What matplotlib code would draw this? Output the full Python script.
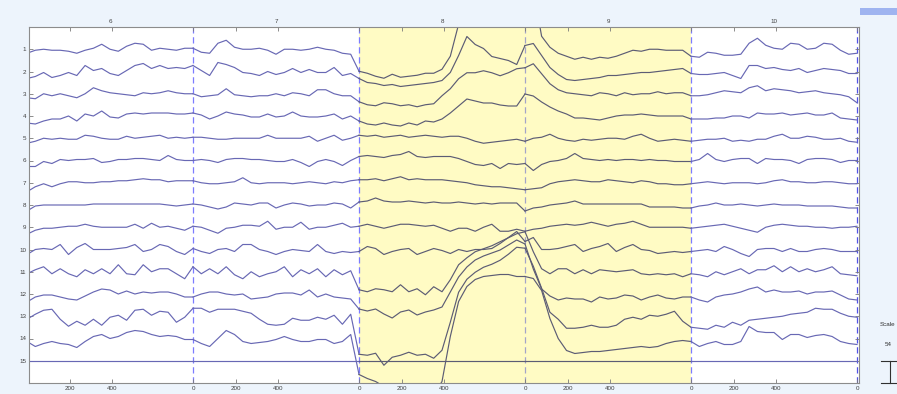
import numpy as np
import matplotlib.pyplot as plt
from matplotlib.transforms import blended_transform_factory

plt.rcParams['font.family'] = ['Liberation Sans', 'DejaVu Sans']

## eegplot style scroll view: epochs 6..10, 200 samples per epoch at 256 Hz

srate = 256
epoch_pts = 200
epoch_numbers = [6, 7, 8, 9, 10]
marked_epochs = [8, 9]
tick_ms = [0, 200, 400]
step = 10            # one value every 10 samples
spacing = 22.25      # channel spacing (shown as scale 54)
scale_text = '54'

# amplitudes per channel, one row per epoch (+ last sample)
ch1 = [-4, -1, 0, -1, -1, -2, -4, -1, 1, 5, 0, -2, 3, 6, 5, -1, 1, 0, -1, 1,
       1, -3, -4, 6, 9, 2, 0, 0, 1, -1, -5, 0, 0, -1, 0, 2, 0, -1, -4, -5,
       -22, -24, -27, -29, -25, -28, -27, -26, -24, -24, -20, -7, 25, 45, 55, 60, 60, 60, 60, 60,
       60, 60, 13, 2, -4, -7, -10, -8, -10, -8, -9, -7, -4, -1, -2, 0, 0, -1, -1, -1,
       -7, -8, -3, -4, -6, -6, -5, 6, 11, 4, 1, 0, 6, 5, 0, 1, 6, 5, -1, -5,
       -4]
ch2 = [-7, -5, -1, -6, -4, -1, -4, 6, 1, 3, -2, -4, 1, 6, 8, 3, 6, 3, 4, 3,
       6, 1, -4, 9, 7, 4, -1, -2, -4, 0, -3, -1, 3, -1, 2, -1, -1, 4, -4, -2,
       -7, -11, -12, -14, -13, -15, -14, -13, -12, -11, -9, -1, 16, 35, 27, 23, 15, 13, 11, 7,
       26, 28, 16, 4, -3, -8, -9, -8, -7, -6, -4, -4, -3, -2, -1, -1, 0, 1, 2, 3,
       -2, -3, -3, -2, -1, -4, -7, 6, 6, 3, 4, 2, 1, 3, -1, 1, 3, 2, 1, -2,
       -2]
ch3 = [-4, -5, 0, -2, 0, -2, -4, 0, 6, 3, 1, 0, -1, -2, 1, 0, 1, 3, 1, 0,
       0, -3, -2, -1, 5, -1, -2, -3, -2, -2, 0, -2, 1, 0, -2, 4, 4, 0, -2, -2,
       -8, -11, -12, -9, -10, -12, -11, -13, -11, -10, -2, 5, 15, 21, 21, 23, 21, 18, 21, 25,
       26, 30, 20, 10, 4, 1, 0, -1, -2, 1, 0, -2, 1, -1, 0, 0, 2, 0, 1, 1,
       -2, -2, -1, 1, 3, 2, 1, 6, 8, 3, 5, 4, 3, 1, 2, 3, 1, 0, -1, -3,
       -9]
ch4 = [-7, -8, -5, -3, -3, 0, -5, 2, 0, 5, -1, -2, 2, 3, 2, 3, 3, 3, 2, 2,
       3, 1, -3, 0, 4, 2, 1, -1, -1, 2, -1, 0, 4, 0, -1, -1, 0, 2, -3, 0,
       -5, -8, -9, -7, -9, -10, -7, -9, -5, -6, -3, 3, 10, 17, 15, 13, 13, 11, 10, 10,
       22, 20, 14, 9, 5, 2, -2, -2, -3, -4, -2, 0, 1, 1, 2, 1, 0, 0, 0, 0,
       -3, -3, -3, -2, -2, 0, 0, -2, 3, 2, 2, 3, 1, 2, 3, 1, 1, 3, -2, -3,
       -4]
ch5 = [-5, -3, 0, -1, 0, -1, -1, 3, 2, 0, -1, -1, 2, 0, 1, 2, 3, 0, 1, 0,
       1, 1, 0, -1, -1, 0, 0, 0, 0, 3, 0, 0, 0, 0, 2, -3, 0, 3, -2, 0,
       3, 2, 3, 1, 2, 3, 1, 2, 3, 2, 1, 2, 2, 0, -3, -5, -4, -3, -2, -1,
       -3, 0, 1, 4, 0, -2, -3, -1, -2, -1, 0, 0, -1, 2, 4, 0, -3, -2, -1, -2,
       -3, -2, -1, -1, 0, -3, -2, -3, -1, -1, 2, 4, 0, 0, 2, 1, -1, -1, 0, -3,
       -4]
ch6 = [-6, -6, -1, -3, 1, 0, 1, 1, 2, -2, -1, 1, 1, 2, 2, 1, 0, 5, 1, 0,
       0, 1, 0, -2, 1, 2, 2, 1, 1, 0, -1, -1, 1, -2, -6, -1, 1, -1, -5, 0,
       4, 5, 4, 3, 5, 6, 9, 4, 3, 4, 4, 4, 2, -1, -4, -5, -3, -8, -3, -4,
       -3, -10, -4, -1, 0, 2, 7, 2, 1, 0, 1, 0, 1, 1, 0, 1, 0, 0, -1, -1,
       -1, 1, 7, 1, -1, 1, 2, 2, -3, 2, 1, 1, 0, -3, 1, 2, 2, 1, -2, 0,
       0]
ch7 = [-9, -4, -1, -4, -1, 1, 1, 0, 0, 1, 1, 2, 2, 3, 4, 3, 3, 1, 2, 2,
       2, 0, -1, -1, 0, 1, 5, 0, -1, 0, 0, 0, -1, 0, 1, 0, -1, 1, 0, 2,
       3, 3, 4, 2, 4, 6, 3, 4, 3, 3, 3, 2, 1, 0, -2, -3, -4, -4, -5, -6,
       -7, -6, -5, -1, 1, 2, 3, 2, 1, 1, 3, 2, 1, 0, 2, 1, -1, -1, -2, -2,
       -1, 0, 1, 0, -1, 0, 0, 0, -1, 0, 2, 3, 1, 1, 0, 0, 1, 1, 0, -1,
       -1]
ch8 = [-6, -1, 0, 0, 0, 0, 0, 0, 1, 1, 1, 1, 1, 1, 1, 1, 1, 0, -1, 0,
       1, 0, -2, -4, -2, 2, 1, 0, 2, 2, -3, 0, 2, 1, -1, 0, 0, 2, 1, -3,
       3, 4, 7, 4, 3, 3, 4, 3, 2, 3, 2, 2, 3, 2, 1, 2, 1, 2, 2, 2,
       -6, -3, -2, 0, 1, 2, 4, 1, 1, 1, 1, 1, 1, 1, 1, -2, -2, -2, -2, -3,
       -3, -1, 0, 2, 0, 0, 1, 0, -1, 0, 1, 0, 0, 0, -1, -1, -1, -1, -2, -3,
       -3]
ch9 = [-7, -3, -1, -1, 0, 1, 1, 3, 1, 0, 0, 0, 0, 3, -1, 4, 0, 1, -1, -3,
       1, 0, -3, -6, -1, 0, 2, 2, 1, 6, -2, 0, 0, 5, -2, 0, 0, 2, 4, 0,
       1, 3, 1, -1, 1, 3, 3, 2, 1, 2, -1, -4, -1, -1, -4, 0, 3, -4, -4, -2,
       -4, -2, -1, 1, 2, 3, 2, 3, 5, 3, 1, 3, 4, 6, 3, 0, 0, 0, 0, 0,
       -1, 0, 1, 2, 3, 1, -1, -3, -5, 0, 2, 3, 2, 1, 1, 0, 0, -1, 0, 0,
       1]
ch10 = [-5, 0, 1, 0, 5, -5, 2, 6, 0, 0, 0, 1, 2, 5, -2, 0, 5, 3, -2, -5,
        1, -2, -4, 0, 1, -2, 5, 5, 0, -2, -5, -2, 0, -1, -2, 5, -2, -4, -2, -3,
        -2, 3, 1, -5, -2, 0, 1, -5, -2, 1, -1, -4, 0, -2, 0, 0, 1, 6, 12, 18,
        8, 12, 0, 0, 1, 3, 5, -2, 1, 3, 6, -2, 2, 5, 0, -1, -4, -3, -2, -3,
        -2, -1, 0, -2, 3, 0, -4, -7, 0, 1, 1, -2, 1, -2, -2, 0, 1, 0, -2, -2,
        -2]
ch11 = [-2, 2, 5, -2, 3, -2, -5, 2, -2, 3, -2, 7, -2, -3, 7, 0, 3, 3, -2, -7,
        5, -2, 3, -2, 5, -3, -7, 0, -5, -2, 0, 5, -5, 2, -2, 3, -5, 2, -3, 1,
        -18, -20, -17, -18, -20, -13, -20, -17, -23, -15, -20, -8, 7, 14, 20, 23, 26, 30, 34, 38,
        40, 20, 3, -2, 3, 3, -2, 2, -2, 2, 1, 0, 1, 2, -2, -3, -2, -3, -2, -5,
        -2, -3, -5, 0, -3, 0, 3, -2, 2, 2, 6, 0, 5, 0, 3, 0, 2, 5, -2, -3,
        -4]
ch12 = [-8, -3, -1, -1, -3, -5, -6, -2, 2, 5, 4, 0, 3, 0, 2, 1, 2, 2, 0, -3,
        -3, 0, 2, 2, 0, -1, 0, -5, -4, -3, 0, 1, 1, -1, 4, -3, 0, -3, -4, -5,
        -15, -17, -15, -20, -24, -18, -16, -21, -18, -16, -13, 2, 17, 27, 34, 38, 41, 44, 49, 54,
        50, 25, 5, -2, -6, -4, -5, -5, -8, -3, -5, -4, -1, -2, -6, -3, -1, -4, -5, -3,
        -3, -6, -8, -3, -1, 0, 2, 5, 7, 2, 4, 2, 2, 3, 0, 2, 2, 3, -1, -5,
        -6]
ch13 = [-3, 2, 6, 7, -3, -10, -5, -9, -3, -9, -1, 1, -4, 6, 7, 1, 5, 4, -6, -1,
        8, 8, 4, 7, 7, 7, 5, 3, -3, -8, -9, -8, -2, -4, -4, -1, -3, 1, -8, 2,
        -38, -39, -37, -49, -41, -39, -36, -39, -38, -42, -34, -6, 24, 37, 44, 49, 52, 56, 62, 69,
        68, 50, 28, 4, -3, -12, -12, -11, -9, -11, -11, -9, -3, -1, -3, 1, 0, 2, 5, -5,
        -11, -12, -13, -9, -11, -6, -9, -4, -3, -2, -1, 0, 2, 3, 4, 8, 7, 7, 3, 0,
        -1]
ch14 = [-3, -8, -5, -3, -5, -6, -9, -3, 2, 4, 0, 2, 6, 8, 7, 4, 2, 3, 2, -1,
        -1, -5, -8, 0, 8, 4, -3, -5, -4, -3, -1, 2, -1, -3, -3, -1, -1, -5, -3, 4,
        -36, -40, -43, -48, -53, -58, -58, -58, -58, -56, -43, 2, 37, 52, 59, 62, 63, 64, 64, 62,
        62, 60, 48, 20, 0, -12, -15, -14, -13, -13, -12, -11, -10, -9, -8, -9, -8, -5, -3, -2,
        -3, -8, -5, -3, -6, -6, -3, 12, 7, 6, 6, -1, 4, 4, 1, 3, 4, 2, -3, -5,
        -6]
# flat channel
ch15 = [0, 0, 0, 0, 0, 0, 0, 0, 0, 0, 0, 0, 0, 0, 0, 0, 0, 0, 0, 0,
        0, 0, 0, 0, 0, 0, 0, 0, 0, 0, 0, 0, 0, 0, 0, 0, 0, 0, 0, 0,
        0, 0, 0, 0, 0, 0, 0, 0, 0, 0, 0, 0, 0, 0, 0, 0, 0, 0, 0, 0,
        0, 0, 0, 0, 0, 0, 0, 0, 0, 0, 0, 0, 0, 0, 0, 0, 0, 0, 0, 0,
        0, 0, 0, 0, 0, 0, 0, 0, 0, 0, 0, 0, 0, 0, 0, 0, 0, 0, 0, 0,
        0]

channels = [ch1, ch2, ch3, ch4, ch5, ch6, ch7, ch8, ch9, ch10, ch11, ch12, ch13, ch14, ch15]
chan_labels = [str(i + 1) for i in range(len(channels))]

n_ch = len(channels)
n_ep = len(epoch_numbers)
per_ep = epoch_pts // step
x = np.arange(len(ch1)) * step

fig = plt.figure(figsize=(8.97, 3.94), dpi=100, facecolor='#EDF4FC')
ax = fig.add_axes([29 / 897, 11 / 394, 830 / 897, 356 / 394])
ax.set_facecolor('white')
ax.set_xlim(2.4, n_ep * epoch_pts + 2.4)
ax.set_ylim(0, (n_ch + 1) * spacing)

# marked (rejected) epochs
for ep in marked_epochs:
    i = epoch_numbers.index(ep)
    ax.axvspan(i * epoch_pts, (i + 1) * epoch_pts, color='#FFFBC4', lw=0, zorder=0)

# epoch boundaries
for i in range(1, n_ep + 1):
    left_marked = epoch_numbers[i - 1] in marked_epochs
    right_marked = i < n_ep and epoch_numbers[i] in marked_epochs
    col = '#A4A4C8' if (left_marked and right_marked) else '#7C7CFF'
    if i == n_ep:
        col = '#5050E8'
    ax.axvline(i * epoch_pts, color=col, lw=0.9, linestyle=(0, (5, 3)), zorder=1)

# traces
for k, data in enumerate(channels):
    y = np.array(data, dtype=float) + (n_ch - k) * spacing
    for i in range(n_ep):
        sl = slice(i * per_ep, (i + 1) * per_ep + 1)
        col = '#5C5C74' if epoch_numbers[i] in marked_epochs else '#6868B4'
        ax.plot(x[sl], y[sl], color=col, lw=0.85, zorder=2)

# bottom ticks (ms within epoch), mirrored on top; first epoch start is off-axis
xt, xl = [], []
for i in range(n_ep):
    for ms in tick_ms:
        if i == 0 and ms == 0:
            continue
        xt.append(i * epoch_pts + ms * srate / 1000)
        xl.append(str(ms))
xt.append(n_ep * epoch_pts)
xl.append('0')
ax.set_xticks(xt, xl)
ax.set_yticks([(n_ch - k) * spacing for k in range(n_ch)], chan_labels)
ax.tick_params(direction='in', length=3, width=0.6, labelsize=4.5, pad=2,
               top=True, right=True, color='#7A7A7A', labelcolor='#404040')

# epoch numbers on top
top = ax.secondary_xaxis('top')
top.set_xticks([i * epoch_pts + epoch_pts / 2 for i in range(n_ep)],
               [str(e) for e in epoch_numbers])
top.tick_params(length=0, labelsize=4.5, pad=2, labelcolor='#404040')
top.spines['top'].set_visible(False)

for s in ax.spines.values():
    s.set_color('#8C8C8C')
    s.set_linewidth(0.8)

# scale bar on the right
trans = blended_transform_factory(fig.transFigure, ax.transData)
ax.plot([890 / 897, 890 / 897], [0, spacing], transform=trans, clip_on=False, color='#303030', lw=0.8)
ax.plot([881 / 897, 1.0], [0, 0], transform=trans, clip_on=False, color='#303030', lw=0.8)
ax.plot([881 / 897, 1.0], [spacing, spacing], transform=trans, clip_on=False, color='#303030', lw=0.8)
fig.text(880 / 897, (394 - 325) / 394, 'Scale', fontsize=4.5, color='#303030', va='center')
fig.text(885 / 897, (394 - 344) / 394, scale_text, fontsize=4.5, color='#303030', va='center')

fig.add_artist(plt.Rectangle((860 / 897, 379 / 394), 37 / 897, 7 / 394,
                             transform=fig.transFigure, color='#9FB4F0', lw=0))

fig.savefig('out.png', dpi=100, facecolor=fig.get_facecolor())
